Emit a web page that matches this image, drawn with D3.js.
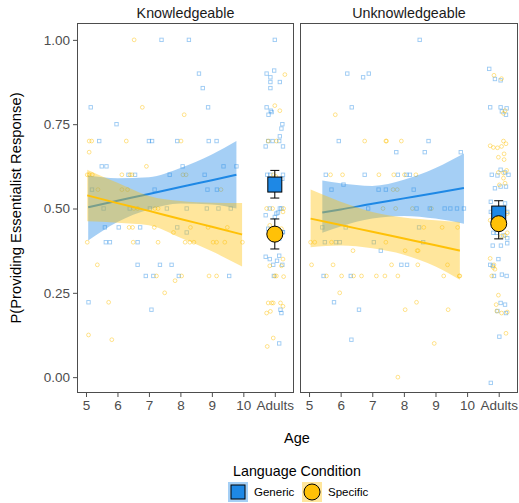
<!DOCTYPE html>
<html>
<head>
<meta charset="utf-8">
<script src="https://cdn.jsdelivr.net/npm/d3@7"></script>
<style>
  body { margin: 0; background: #fff; }
  svg { display: block; }
  text { font-family: "Liberation Sans", Arial, sans-serif; }
</style>
</head>
<body>
<svg id="chart" width="519" height="503"></svg>
<script>
// facets + axis ticks
const panels = ['Knowledgeable', 'Unknowledgeable'];
const xTicks = [5, 6, 7, 8, 9, 10, 11];
const xTickLabels = ['5', '6', '7', '8', '9', '10', 'Adults'];
const yTicks = [0, 0.25, 0.5, 0.75, 1];
const conditions = ['Generic', 'Specific'];

// children: [age, proportion]
const kidsGenericK = [[5.15,0.80],[5.97,0.75],[7.4,1.0],[8.27,1.0],[8.59,0.90],[8.71,0.857],[8.88,0.80],
  [5.42,0.70],[7.0,0.70],[7.1,0.70],[7.9,0.70],[8.9,0.70],[9.15,0.70],
  [5.5,0.625],[5.65,0.625],[8.07,0.625],[9.37,0.625],[9.78,0.625],
  [6.35,0.60],[6.56,0.60],[7.66,0.60],[8.77,0.60],
  [5.19,0.556],[7.18,0.556],[8.86,0.556],[9.16,0.556],
  [5.56,0.50],[6.39,0.50],[7.03,0.50],[7.57,0.50],[8.2,0.50],[8.84,0.50],[9.21,0.50],[9.6,0.50],
  [5.6,0.444],[6.04,0.444],[6.72,0.444],[7.9,0.444],[8.2,0.429],
  [5.63,0.40],[5.76,0.40],[6.64,0.40],
  [6.64,0.333],[7.35,0.333],[7.72,0.333],
  [6.9,0.30],[7.14,0.30],[7.95,0.30],[9.55,0.30],
  [5.08,0.222],[7.08,0.20]];
const kidsSpecificK = [[6.53,1.0],[6.79,0.80],[8.12,0.778],
  [5.1,0.70],[5.18,0.70],[6.28,0.70],[8.02,0.70],
  [5.1,0.667],[6.92,0.625],
  [5.04,0.60],[5.1,0.60],[5.2,0.60],[6.14,0.60],[6.4,0.60],[6.46,0.60],[8.08,0.60],[8.18,0.60],
  [5.38,0.556],[6.14,0.556],[6.32,0.556],[9.29,0.556],
  [6.52,0.50],[6.64,0.50],[7.19,0.50],[7.29,0.50],
  [6.37,0.444],[6.48,0.444],[7.17,0.444],[8.32,0.444],[8.88,0.444],[9.49,0.444],[7.78,0.429],
  [5.04,0.40],[6.5,0.40],[7.29,0.40],[8.15,0.40],[8.3,0.40],[8.43,0.40],[9.04,0.40],[9.15,0.40],[9.41,0.40],[9.97,0.40],
  [5.36,0.333],
  [7.24,0.30],[8.04,0.30],[8.91,0.30],[9.15,0.30],
  [7.83,0.286],[7.5,0.25],[5.72,0.222],[5.08,0.125],[5.82,0.111]];
const kidsGenericU = [[8.5,1.0],[6.21,0.90],[6.71,0.889],[6.89,0.90],[6.35,0.80],
  [5.94,0.70],[8.78,0.70],
  [7.76,0.667],[8.66,0.667],[9.8,0.667],
  [5.53,0.60],[6.76,0.60],[7.81,0.60],[8.08,0.60],[8.19,0.60],
  [6.09,0.571],
  [5.71,0.556],[7.2,0.556],[7.43,0.556],[8.31,0.556],
  [6.87,0.50],[8.4,0.50],[8.82,0.50],[9.29,0.50],[9.47,0.50],[9.68,0.50],[9.9,0.50],
  [5.42,0.444],[6.16,0.444],[8.48,0.444],
  [5.5,0.40],[5.85,0.40],[5.97,0.40],[7.05,0.40],[8.61,0.40],
  [7.27,0.375],
  [7.92,0.333],[8.1,0.333],
  [5.46,0.30],[6.32,0.30],
  [5.79,0.222],[6.58,0.20],[6.34,0.111]];
const kidsSpecificU = [[5.83,0.778],
  [6.76,0.70],[7.43,0.70],[7.45,0.70],[7.92,0.70],
  [5.68,0.60],[6.06,0.60],[7.21,0.60],[7.68,0.60],[8.02,0.60],[8.38,0.60],
  [7.66,0.556],[7.79,0.556],
  [7.34,0.50],[7.74,0.50],[8.27,0.50],[8.87,0.50],
  [8.63,0.444],[9.21,0.444],[9.7,0.444],
  [5.05,0.40],[5.18,0.40],[5.71,0.40],[7.43,0.40],
  [6.39,0.375],[8.04,0.375],[8.42,0.375],[8.45,0.375],
  [5.08,0.333],[5.76,0.333],[7.61,0.333],[8.44,0.333],[9.38,0.333],
  [5.55,0.30],[6.03,0.30],[6.41,0.30],[6.66,0.30],[7.13,0.30],[7.4,0.30],[7.81,0.30],[9.26,0.30],[9.75,0.30],[9.77,0.30],
  [5.97,0.25],[8.4,0.222],[8.04,0.20],[9.4,0.20],[8.96,0.10],[7.81,0.0]];

// adults: [jitter around "Adults", proportion]
const adultsGenericK = [[0.0,1.0],[-0.26,0.90],[-0.14,0.889],[-0.02,0.909],[-0.14,0.875],[-0.14,0.857],[0.16,0.875],
  [-0.26,0.80],[-0.13,0.79],[-0.1,0.786],[-0.2,0.778],[0.24,0.75],
  [0.21,0.737],[0.16,0.714],[-0.07,0.70],[-0.21,0.70],[-0.29,0.684],[0.14,0.70],[0.26,0.684],
  [-0.24,0.60],[-0.14,0.60],[0.26,0.60],[0.24,0.588],[0.14,0.571],
  [-0.16,0.50],[0.16,0.50],[0.21,0.50],[0.1,0.488],[0.05,0.485],[-0.29,0.48],[0.0,0.475],
  [-0.21,0.44],[0.24,0.43],[0.26,0.43],[0.14,0.41],[-0.16,0.42],
  [-0.29,0.357],[-0.16,0.35],[0.14,0.36],[0.24,0.333],[-0.05,0.333],[-0.03,0.30],[0.07,0.345],
  [0.18,0.20],[0.21,0.19],[0.14,0.10]];
const adultsSpecificK = [[0.32,0.897],[0.0,0.805],[0.16,0.79],[0.05,0.70],[-0.21,0.70],[-0.05,0.60],[0.03,0.595],
  [-0.07,0.50],[-0.26,0.50],[0.28,0.50],[0.26,0.49],[-0.16,0.45],[0.21,0.44],
  [0.26,0.35],[-0.16,0.33],[0.21,0.33],[0.0,0.30],[0.05,0.30],[0.28,0.298],
  [-0.21,0.22],[-0.1,0.22],[-0.05,0.22],[0.18,0.22],[0.26,0.21],[-0.26,0.19],[-0.14,0.195],
  [-0.05,0.116],[-0.24,0.091]];
const adultsGenericU = [[-0.30,0.914],[-0.12,0.884],[0.06,0.88],
  [-0.27,0.80],[0.06,0.80],[0.25,0.797],[0.1,0.788],[0.23,0.778],
  [-0.22,0.60],[-0.04,0.598],[0.06,0.615],[0.2,0.607],[0.31,0.60],[-0.12,0.56],[0.06,0.565],[0.23,0.565],
  [-0.25,0.52],[0.2,0.515],[0.27,0.49],[-0.25,0.49],
  [-0.17,0.428],[-0.06,0.428],[0.15,0.42],[0.27,0.412],[-0.19,0.39],[0.07,0.39],[0.27,0.397],
  [-0.01,0.35],[-0.27,0.333],[-0.19,0.33],[-0.15,0.30],[0.1,0.304],[0.25,0.30],
  [0.06,0.22],[0.2,0.215],[-0.04,0.196],[0.23,0.19],
  [0.02,0.12],[-0.25,-0.017]];
const adultsSpecificU = [[-0.15,0.895],[0.09,0.885],
  [0.2,0.79],[0.15,0.782],
  [-0.27,0.686],[-0.17,0.681],[-0.04,0.68],[0.09,0.684],[0.15,0.70],[0.23,0.692],
  [-0.01,0.652],[0.17,0.662],[0.17,0.645],
  [-0.01,0.607],[0.15,0.605],[0.25,0.613],[0.15,0.59],[0.2,0.575],[0.02,0.57],
  [-0.27,0.465],[0.27,0.485],[0.2,0.42],[0.27,0.428],[0.09,0.418],
  [-0.27,0.352],[-0.15,0.333],[-0.12,0.32],[-0.22,0.30],[-0.17,0.325],
  [-0.01,0.243],[-0.08,0.215],[-0.06,0.196],[0.09,0.19],[0.27,0.193],
  [0.23,0.13]];

// logistic fits: [age, lower, fit, upper]
const bandGenericK = [[5.07,0.405,0.504,0.598],[6,0.46,0.523,0.59],[7,0.497,0.543,0.593],[8,0.515,0.564,0.62],[9,0.512,0.584,0.66],[9.78,0.50,0.60,0.70]];
const bandSpecificK = [[5.04,0.462,0.539,0.615],[6,0.458,0.516,0.576],[7,0.45,0.493,0.537],[8,0.413,0.469,0.522],[9,0.373,0.446,0.517],[9.96,0.328,0.423,0.516]];
const bandGenericU = [[5.42,0.428,0.488,0.583],[6,0.447,0.497,0.575],[7,0.47,0.514,0.567],[8,0.478,0.53,0.585],[9,0.47,0.546,0.62],[9.9,0.455,0.561,0.663]];
const bandSpecificU = [[5.05,0.385,0.47,0.556],[6,0.39,0.451,0.52],[7,0.382,0.431,0.49],[8,0.363,0.411,0.473],[9,0.328,0.391,0.465],[9.77,0.289,0.375,0.46]];

// adult means with 95% CI, one per panel
const meanGeneric = [0.571, 0.485];
const ciGeneric = [[0.531, 0.613], [0.447, 0.523]];
const meanSpecific = [0.424, 0.455];
const ciSpecific = [[0.38, 0.469], [0.41, 0.50]];

const BLUE = '#1E88E5', YELLOW = '#FFC107';

const svg = d3.select('#chart');
const panelRange = [[77, 294], [300, 518]];
const plotTop = 23, plotBottom = 393;
const y = d3.scaleLinear().domain([-0.047, 1.05]).range([plotBottom, plotTop]);

const kids = [[kidsGenericK, kidsSpecificK], [kidsGenericU, kidsSpecificU]];
const adults = [[adultsGenericK, adultsSpecificK], [adultsGenericU, adultsSpecificU]];
const bands = [[bandGenericK, bandSpecificK], [bandGenericU, bandSpecificU]];
const colors = [BLUE, YELLOW];

panels.forEach((name, pi) => {
  const x = d3.scaleLinear().domain([4.714, 11.61]).range(panelRange[pi]);
  const g = svg.append('g');

  // jittered raw points
  [0, 1].forEach(ci => {
    const pts = kids[pi][ci].concat(adults[pi][ci].map(d => [11 + d[0], d[1]]));
    const sel = g.append('g').selectAll('.pt').data(pts).enter();
    if (ci === 0) {
      sel.append('rect')
        .attr('x', d => x(d[0]) - 1.7).attr('y', d => y(d[1]) - 1.7)
        .attr('width', 3.4).attr('height', 3.4)
        .attr('fill', 'none').attr('stroke', BLUE).attr('stroke-opacity', 0.45).attr('stroke-width', 0.9);
    } else {
      sel.append('circle')
        .attr('cx', d => x(d[0])).attr('cy', d => y(d[1])).attr('r', 1.9)
        .attr('fill', 'none').attr('stroke', YELLOW).attr('stroke-opacity', 0.5).attr('stroke-width', 0.9);
    }
  });

  // smooth ribbons + lines
  [0, 1].forEach(ci => {
    const b = bands[pi][ci];
    const area = d3.area().x(d => x(d[0])).y0(d => y(d[1])).y1(d => y(d[3])).curve(d3.curveMonotoneX);
    const line = d3.line().x(d => x(d[0])).y(d => y(d[2])).curve(d3.curveMonotoneX);
    g.append('path').attr('d', area(b)).attr('fill', colors[ci]).attr('fill-opacity', 0.4);
    g.append('path').attr('d', line(b)).attr('fill', 'none').attr('stroke', colors[ci]).attr('stroke-width', 2);
  });

  // adult means + error bars
  const ax = x(11);
  [ciGeneric, ciSpecific].forEach(ci => {
    const c = ci[pi];
    g.append('line').attr('x1', ax).attr('x2', ax).attr('y1', y(c[0])).attr('y2', y(c[1])).attr('stroke', '#000').attr('stroke-width', 1);
    [c[0], c[1]].forEach(v => {
      g.append('line').attr('x1', ax - 4.5).attr('x2', ax + 4.5).attr('y1', y(v)).attr('y2', y(v)).attr('stroke', '#000').attr('stroke-width', 1);
    });
  });
  g.append('rect')
    .attr('x', ax - 7).attr('y', y(meanGeneric[pi]) - 7.5).attr('width', 14).attr('height', 15)
    .attr('fill', BLUE).attr('stroke', '#000').attr('stroke-width', 1);
  g.append('circle')
    .attr('cx', ax).attr('cy', y(meanSpecific[pi])).attr('r', 8)
    .attr('fill', YELLOW).attr('stroke', '#000').attr('stroke-width', 1);

  // panel border
  g.append('rect')
    .attr('x', panelRange[pi][0] + 0.5).attr('y', plotTop + 0.5)
    .attr('width', panelRange[pi][1] - panelRange[pi][0] - 1).attr('height', plotBottom - plotTop - 1)
    .attr('fill', 'none').attr('stroke', '#4d4d4d').attr('stroke-width', 1);

  // strip label
  svg.append('text')
    .attr('x', (panelRange[pi][0] + panelRange[pi][1]) / 2).attr('y', 17.5)
    .attr('text-anchor', 'middle').attr('font-size', 14.3).attr('fill', '#1a1a1a')
    .text(name);

  // x axis
  const xAxis = svg.append('g').attr('transform', `translate(0,${plotBottom})`)
    .call(d3.axisBottom(x).tickValues(xTicks).tickFormat((d, i) => xTickLabels[i]).tickSize(4).tickPadding(3));
  xAxis.select('.domain').remove();
  xAxis.selectAll('line').attr('stroke', '#4d4d4d');
  xAxis.selectAll('text').attr('font-size', 13.5).attr('fill', '#4d4d4d').attr('font-family', '"Liberation Sans", Arial, sans-serif');

  if (pi === 0) {
    const yAxis = svg.append('g').attr('transform', `translate(${panelRange[0][0]},0)`)
      .call(d3.axisLeft(y).tickValues(yTicks).tickFormat(d3.format('.2f')).tickSize(4).tickPadding(3));
    yAxis.select('.domain').remove();
    yAxis.selectAll('line').attr('stroke', '#4d4d4d');
    yAxis.selectAll('text').attr('font-size', 13.5).attr('fill', '#4d4d4d').attr('font-family', '"Liberation Sans", Arial, sans-serif');
  }
});

// axis titles
svg.append('text')
  .attr('transform', `translate(21,${(plotTop + plotBottom) / 2}) rotate(-90)`)
  .attr('text-anchor', 'middle').attr('font-size', 14.8).attr('fill', '#000')
  .text('P(Providing Essentialist Response)');
svg.append('text')
  .attr('x', 297).attr('y', 443).attr('text-anchor', 'middle')
  .attr('font-size', 14.5).attr('fill', '#000').text('Age');

// legend
svg.append('text')
  .attr('x', 297).attr('y', 476).attr('text-anchor', 'middle')
  .attr('font-size', 14.3).attr('fill', '#000').text('Language Condition');
const keyX = [228, 302];
conditions.forEach((c, i) => {
  const k = svg.append('g').attr('transform', `translate(${keyX[i]},482)`);
  k.append('rect').attr('width', 20).attr('height', 20).attr('fill', colors[i]).attr('fill-opacity', 0.4);
  if (i === 0) {
    k.append('rect').attr('x', 3).attr('y', 3).attr('width', 14).attr('height', 14)
      .attr('fill', BLUE).attr('stroke', '#000').attr('stroke-width', 1);
  } else {
    k.append('circle').attr('cx', 10).attr('cy', 10).attr('r', 8)
      .attr('fill', YELLOW).attr('stroke', '#000').attr('stroke-width', 1);
  }
  k.append('text').attr('x', 26).attr('y', 14.2).attr('font-size', 11.5).attr('fill', '#000').text(c);
});
</script>
</body>
</html>
